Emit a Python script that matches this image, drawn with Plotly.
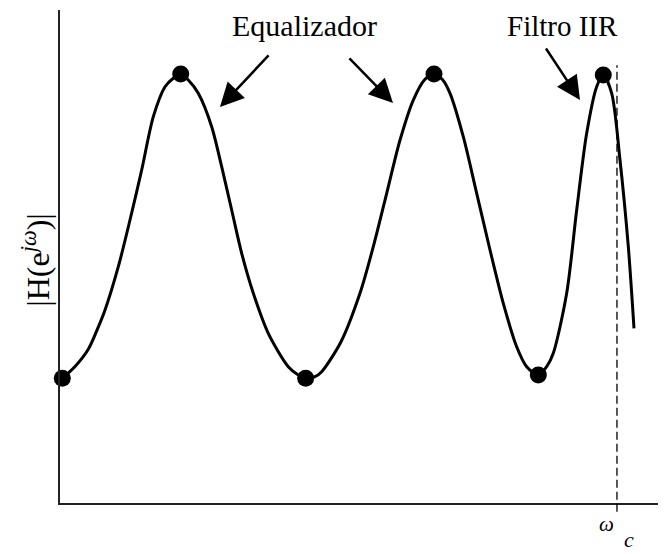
import plotly.graph_objects as go

# Curve samples (normalized frequency 0..100, magnitude 0..100)
omega = [0.38, 2.48, 4.67, 6.05, 7.43, 9.62, 11.55, 13.48, 15.40, 17.33, 18.70, 19.92,
         21.17, 22.82, 25.03, 26.68, 28.33, 29.98, 31.90, 34.37, 37.67, 39.32, 40.54,
         42.08, 43.18, 46.35, 49.50, 51.70, 53.91, 56.11, 58.30, 60.20, 61.72, 63.10,
         64.36, 66.55, 68.76, 70.96, 73.15, 75.36, 77.01, 78.93, 80.31, 81.40, 83.61,
         85.26, 86.91, 88.56, 89.65, 91.04, 92.41, 93.78, 94.72]
magnitude = [25.29, 27.7, 31.2, 34.9, 39.15, 47.93, 57.40, 67.55, 78.36, 84.44, 86.15, 87.02,
             85.80, 83.10, 76.33, 68.22, 59.43, 50.65, 42.54, 34.42, 27.65, 25.96, 25.29,
             25.62, 26.63, 32.66, 42.54, 51.99, 62.82, 73.63, 81.74, 85.90, 87.02, 85.90,
             83.10, 74.30, 62.82, 51.32, 40.51, 31.70, 27.65, 25.96, 27.65, 30.37, 42.54,
             59.43, 74.99, 84.44, 86.82, 83.10, 69.57, 51.99, 35.44]

# Extremum points marked with dots
dot_omega = [0.38, 19.92, 40.54, 61.72, 78.93, 89.65]
dot_mag = [25.29, 87.02, 25.29, 87.02, 25.96, 86.82]

omega_c = 91.91
labels = ["Equalizador", "Filtro IIR"]

SERIF = "Liberation Serif, Times New Roman, serif"

fig = go.Figure()
fig.add_trace(go.Scatter(x=omega, y=magnitude, mode="lines",
                         line=dict(color="black", width=3, shape="spline", smoothing=0.8),
                         hoverinfo="skip", showlegend=False))
fig.add_trace(go.Scatter(x=dot_omega, y=dot_mag, mode="markers",
                         marker=dict(color="black", size=17),
                         showlegend=False, cliponaxis=False))

# dashed cutoff line
fig.add_shape(type="line", xref="x", yref="paper", x0=omega_c, x1=omega_c,
              y0=-0.018, y1=0.888, line=dict(color="black", width=1.3, dash="8px,4px"))

# text labels
fig.add_annotation(x=40.35, y=96.8, xref="x", yref="y", text=labels[0], showarrow=False,
                   font=dict(family=SERIF, size=30, color="black"))
fig.add_annotation(x=82.92, y=96.8, xref="x", yref="y", text=labels[1], showarrow=False,
                   font=dict(family=SERIF, size=29, color="black"))

# arrows
arrows = [((26.40, 80.32), (34.65, 91.08)),
          ((54.95, 81.14), (47.52, 90.47)),
          ((85.81, 81.74), (80.03, 92.49))]
for (tx, ty), (sx, sy) in arrows:
    fig.add_annotation(x=tx, y=ty, ax=sx, ay=sy, xref="x", yref="y", axref="x", ayref="y",
                       text="", showarrow=True, arrowhead=2, arrowsize=1.9,
                       arrowwidth=2.5, arrowcolor="black")

# y axis label
fig.add_annotation(x=-0.04, y=0.493, xref="paper", yref="paper", xanchor="center", yanchor="middle",
                   text="|H(e<sup><i>jω</i></sup>)|", textangle=-90, showarrow=False,
                   font=dict(family=SERIF, size=32, color="black"))

# omega_c label
fig.add_annotation(x=0.9026, y=-0.0426, xref="paper", yref="paper", xanchor="center", yanchor="middle",
                   text="<i>ω</i>", showarrow=False,
                   font=dict(family=SERIF, size=21, color="black"))
fig.add_annotation(x=0.939, y=-0.1035, xref="paper", yref="paper", xanchor="center", yanchor="bottom",
                   text="<i>c</i>", showarrow=False,
                   font=dict(family=SERIF, size=22, color="black"))

fig.update_layout(
    width=658, height=546,
    margin=dict(l=52, r=0, t=2, b=51),
    paper_bgcolor="white", plot_bgcolor="white",
    xaxis=dict(range=[0, 100], showline=True, linecolor="#222", linewidth=1.5,
               showgrid=False, zeroline=False, showticklabels=False, ticks=""),
    yaxis=dict(range=[0, 100], showline=True, linecolor="#222", linewidth=1.5,
               showgrid=False, zeroline=False, showticklabels=False, ticks=""),
)

fig.write_html("out.html")
